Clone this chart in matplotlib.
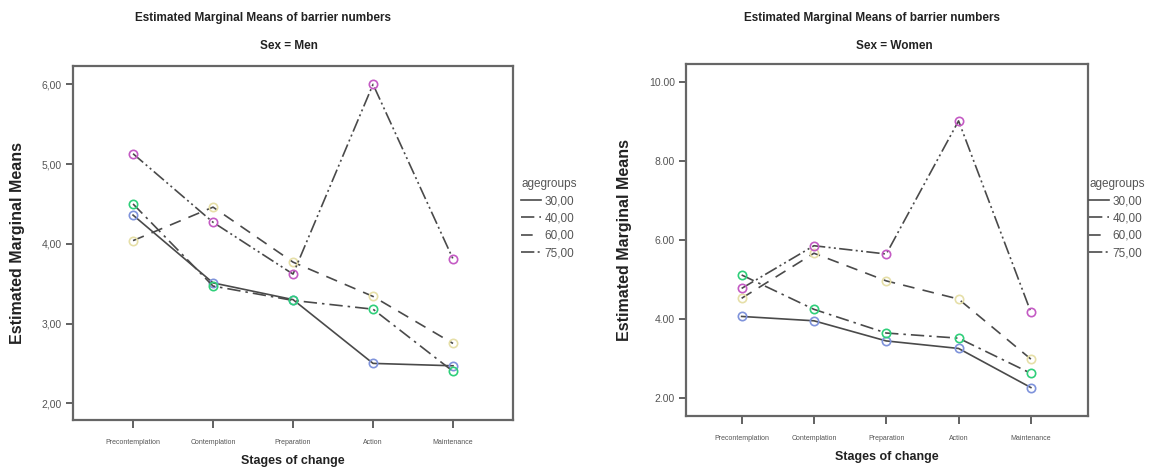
import numpy as np
import matplotlib
matplotlib.use("Agg")
import matplotlib.pyplot as plt
from matplotlib.lines import Line2D

plt.rcParams['font.family'] = ['Liberation Sans', 'DejaVu Sans']

# Datos
stages = ["Precontemplation", "Contemplation", "Preparation", "Action", "Maintenance"]
groups = ["30,00", "40,00", "60,00", "75,00"]

men_30 = [4.36, 3.51, 3.30, 2.50, 2.47]
men_40 = [4.50, 3.47, 3.29, 3.18, 2.40]
men_60 = [4.04, 4.46, 3.77, 3.34, 2.75]
men_75 = [5.13, 4.27, 3.62, 6.00, 3.81]

women_30 = [4.07, 3.96, 3.45, 3.26, 2.27]
women_40 = [5.12, 4.25, 3.65, 3.52, 2.63]
women_60 = [4.53, 5.67, 4.97, 4.51, 2.99]
women_75 = [4.78, 5.86, 5.65, 9.02, 4.18]

men_ticks = [2, 3, 4, 5, 6]
men_ticklabels = ["2,00", "3,00", "4,00", "5,00", "6,00"]
women_ticks = [2, 4, 6, 8, 10]
women_ticklabels = ["2.00", "4.00", "6.00", "8.00", "10.00"]

# Estilos
marker_colors = ["#7f93db", "#2fcf7a", "#e6dfa8", "#c45bc4"]
dashes = ["-", (0, (8, 3, 1.5, 3)), (0, (7, 5)), (0, (8, 2, 1.2, 2, 1.2, 2))]
line_color = "#4a4a4a"
text_gray = "#555555"

fig = plt.figure(figsize=(11.67, 4.75), dpi=100)
ax1 = fig.add_axes([0.0626, 0.1158, 0.377, 0.7452])
ax2 = fig.add_axes([0.5878, 0.1242, 0.3445, 0.7411])

def draw_panel(ax, series, ticks, ticklabels, ylim, xlim):
    x = np.arange(len(stages))
    for vals, ls, mc in zip(series, dashes, marker_colors):
        ax.plot(x, vals, linestyle=ls, color=line_color, linewidth=1.2,
                marker="o", markersize=6, markerfacecolor="none",
                markeredgecolor=mc, markeredgewidth=1.2)
    ax.set_xlim(*xlim)
    ax.set_ylim(*ylim)
    ax.set_xticks(x)
    ax.set_xticklabels(stages, fontsize=5, color=text_gray)
    ax.set_yticks(ticks)
    ax.set_yticklabels(ticklabels, fontsize=7.5, color=text_gray)
    ax.tick_params(axis="x", direction="out", length=6, width=1.3, color="#555555", pad=8)
    ax.tick_params(axis="y", direction="out", length=5, width=1.3, color="#555555", pad=3)
    for sp in ax.spines.values():
        sp.set_color("#666666")
        sp.set_linewidth(1.6)
    ax.set_xlabel("Stages of change", fontsize=9, fontweight="bold", color="#222222", labelpad=6)
    ax.set_ylabel("Estimated Marginal Means", fontsize=11.5, fontweight="bold", color="#222222", labelpad=12)

draw_panel(ax1, [men_30, men_40, men_60, men_75], men_ticks, men_ticklabels, (1.79, 6.23), (-0.75, 4.75))
draw_panel(ax2, [women_30, women_40, women_60, women_75], women_ticks, women_ticklabels, (1.55, 10.46), (-0.77, 4.79))

# Titulos
fig.text(263 / 1167, 1 - 18 / 475, "Estimated Marginal Means of barrier numbers",
         ha="center", va="center", fontsize=8.5, fontweight="bold", color="#222222")
fig.text(289 / 1167, 1 - 46 / 475, "Sex = Men",
         ha="center", va="center", fontsize=8.5, fontweight="bold", color="#222222")
fig.text(872 / 1167, 1 - 18 / 475, "Estimated Marginal Means of barrier numbers",
         ha="center", va="center", fontsize=8.5, fontweight="bold", color="#222222")
fig.text(894 / 1167, 1 - 46 / 475, "Sex = Women",
         ha="center", va="center", fontsize=8.5, fontweight="bold", color="#222222")

# Leyendas
handles = [Line2D([], [], linestyle=ls, color=line_color, linewidth=1.2) for ls in dashes]
for xpos in [521 / 1167, 1089 / 1167]:
    leg = fig.legend(handles, groups, title="agegroups", loc="upper left",
                     bbox_to_anchor=(xpos, 1 - 178 / 475), frameon=False,
                     fontsize=8.5, title_fontsize=8.5, handlelength=1.7, handletextpad=0.3,
                     labelspacing=0.45, borderpad=0, borderaxespad=0)
    leg._legend_box.align = "left"
    for t in leg.get_texts():
        t.set_color(text_gray)
    leg.get_title().set_color(text_gray)

fig.savefig("out.png", dpi=100)
